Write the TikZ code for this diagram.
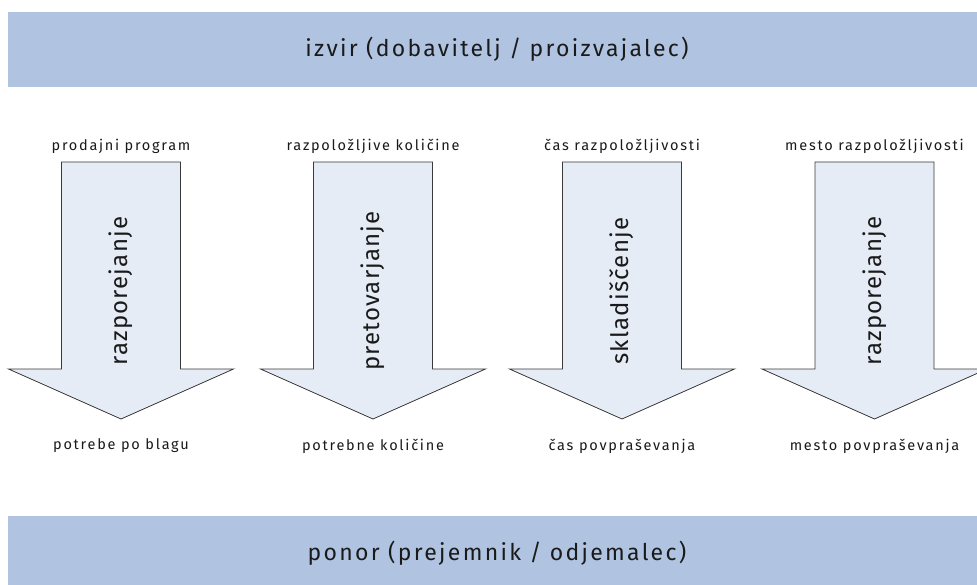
\documentclass[tikz,border=0pt]{standalone}
\usepackage{fontspec}
\setmainfont{Fira Sans}
\newfontfamily\labfont[LetterSpace=12]{Fira Sans}
\newfontfamily\banfont[LetterSpace=10]{Fira Sans}
\newfontfamily\midfont[LetterSpace=5]{Fira Sans}
\definecolor{bannerblue}{HTML}{B0C4E2}
\definecolor{arrowfill}{HTML}{E6ECF6}
\definecolor{arrowline}{HTML}{3A3A3A}
\definecolor{textcol}{HTML}{1A1A1A}
\begin{document}
\begin{tikzpicture}[x=1pt,y=-1pt,
  banner/.style={fill=bannerblue, draw=none},
  bannertext/.style={text=textcol, font=\banfont\fontsize{23}{27}\selectfont},
  flowarrow/.style={fill=arrowfill, draw=arrowline, line width=0.8pt, line join=miter},
  smalllabel/.style={text=textcol, font=\labfont\fontsize{14.5}{17}\selectfont},
  arrowlabel/.style={text=textcol, rotate=90, font=\midfont\fontsize{24}{28}\selectfont}]
\useasboundingbox (0,0) rectangle (977,585);
\fill[white] (0,0) rectangle (977,585);
% banners
\path[banner] (7.5,11.7) rectangle (977,87);
\node[bannertext] (src) at (497,49) {izvir (dobavitelj / proizvajalec)};
\path[banner] (7.5,516) rectangle (977,585);
\node[bannertext] (snk) at (497,553) {ponor (prejemnik / odjemalec)};
% arrows
\foreach \cx/\nm/\top/\bot/\mid in {
  121/a/{prodajni program}/{potrebe po blagu}/razporejanje,
  373/b/{razpoložljive količine}/{potrebne količine}/pretovarjanje,
  622/c/{čas razpoložljivosti}/{čas povpraševanja}/skladiščenje,
  874.5/d/{mesto razpoložljivosti}/{mesto povpraševanja}/razporejanje}{
  \draw[flowarrow] (\cx-59.5,162) -- (\cx+59.5,162) -- (\cx+59.5,369)
     -- (\cx+112.5,369) -- (\cx,419) -- (\cx-112.5,369) -- (\cx-59.5,369) -- cycle;
  \node[smalllabel] (top\nm) at (\cx,146) {\top};
  \node[smalllabel] (bot\nm) at (\cx,446) {\bot};
  \node[arrowlabel] (mid\nm) at (\cx,291) {\mid};
}
\end{tikzpicture}
\end{document}
